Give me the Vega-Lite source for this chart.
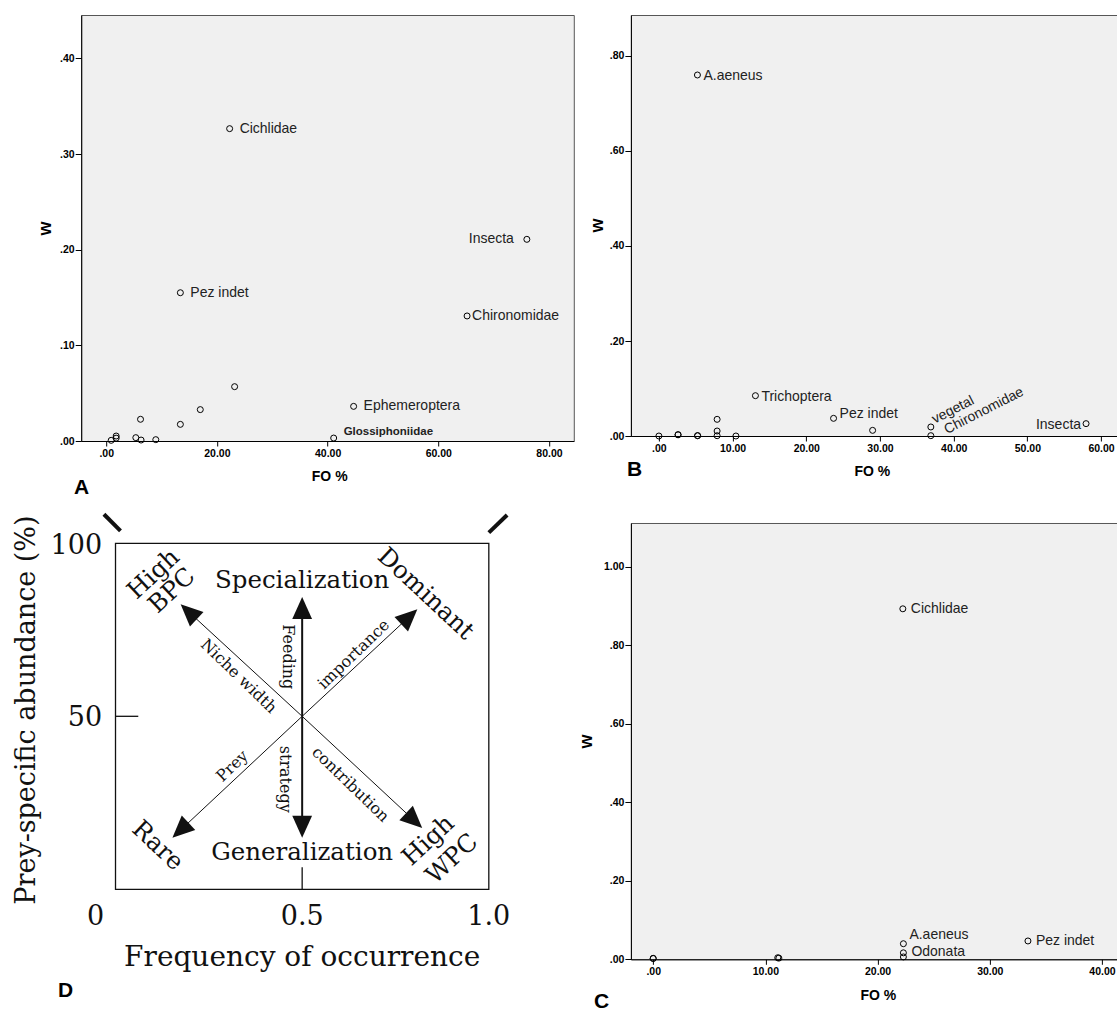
{
  "$schema": "https://vega.github.io/schema/vega-lite/v6.json",
  "background": "white",
  "padding": {"left": 13.2, "top": 14, "right": 0, "bottom": 0},
  "columns": 2,
  "align": "none",
  "bounds": "flush",
  "spacing": {"row": 82, "column": 56.7},
  "config": {
    "view": {"stroke": null},
    "axis": {"grid": false, "domainColor": "#000", "tickColor": "#000", "domainWidth": 1, "tickWidth": 1,
      "labelFont": "Liberation Sans", "labelFontWeight": "bold", "labelFontSize": 10.5, "labelColor": "#000",
      "titleFont": "Liberation Sans", "titleFontWeight": "bold", "titleColor": "#000", "labelFlush": false, "labelOverlap": false},
    "axisX": {"tickSize": 5, "labelPadding": 2, "titleFontSize": 14, "titleBaseline": "middle", "titleAlign": "center"},
    "axisY": {"tickSize": 6, "labelPadding": 1, "titleFontSize": 18, "titleBaseline": "middle", "titleAlign": "center", "titleAngle": -90},
    "text": {"font": "Liberation Sans"}
  },
  "datasets": {
    "A": [
      {"fo": 22.3, "w": 0.3265, "label": "Cichlidae"},
      {"fo": 76.0, "w": 0.2108, "label": "Insecta"},
      {"fo": 13.4, "w": 0.155, "label": "Pez indet"},
      {"fo": 65.2, "w": 0.1307, "label": "Chironomidae"},
      {"fo": 23.2, "w": 0.0568, "label": ""},
      {"fo": 44.7, "w": 0.0362, "label": "Ephemeroptera"},
      {"fo": 17.0, "w": 0.0328, "label": ""},
      {"fo": 13.4, "w": 0.0174, "label": ""},
      {"fo": 6.2, "w": 0.0227, "label": ""},
      {"fo": 5.35, "w": 0.0035, "label": ""},
      {"fo": 6.3, "w": 0.001, "label": ""},
      {"fo": 8.96, "w": 0.0014, "label": ""},
      {"fo": 1.8, "w": 0.0052, "label": ""},
      {"fo": 1.8, "w": 0.003, "label": ""},
      {"fo": 0.9, "w": 0.0007, "label": ""},
      {"fo": 41.1, "w": 0.0031, "label": "Glossiphoniidae"}
    ],
    "B": [
      {"fo": 5.23, "w": 0.76, "label": "A.aeneus"},
      {"fo": 13.1, "w": 0.0849, "label": "Trichoptera"},
      {"fo": 23.7, "w": 0.0372, "label": "Pez indet"},
      {"fo": 29.0, "w": 0.0119, "label": ""},
      {"fo": 36.9, "w": 0.019, "label": "vegetal"},
      {"fo": 36.9, "w": 0.0007, "label": "Chironomidae"},
      {"fo": 57.96, "w": 0.026, "label": "Insecta"},
      {"fo": 7.9, "w": 0.0351, "label": ""},
      {"fo": 7.9, "w": 0.0105, "label": ""},
      {"fo": 7.9, "w": 0.0006, "label": ""},
      {"fo": 0.0, "w": 0.0, "label": ""},
      {"fo": 2.6, "w": 0.0028, "label": ""},
      {"fo": 2.6, "w": 0.0025, "label": ""},
      {"fo": 5.25, "w": 0.0008, "label": ""},
      {"fo": 5.25, "w": 0.0006, "label": ""},
      {"fo": 10.45, "w": 0.0, "label": ""}
    ],
    "C": [
      {"fo": 22.25, "w": 0.893, "label": "Cichlidae"},
      {"fo": 22.3, "w": 0.0397, "label": "A.aeneus"},
      {"fo": 22.3, "w": 0.0165, "label": "Odonata"},
      {"fo": 22.3, "w": 0.006, "label": ""},
      {"fo": 33.4, "w": 0.0467, "label": "Pez indet"},
      {"fo": 0.0, "w": 0.0025, "label": ""},
      {"fo": 0.0, "w": 0.002, "label": ""},
      {"fo": 11.1, "w": 0.004, "label": ""},
      {"fo": 11.2, "w": 0.003, "label": ""}
    ],
    "Dbox": [{"x": 0, "y": 0, "x2": 1, "y2": 100}],
    "Dlines": [
      {"x": 0.5, "y": 50, "x2": 0.5, "y2": 81.3, "k": "v"},
      {"x": 0.5, "y": 50, "x2": 0.5, "y2": 18.1, "k": "v"},
      {"x": 0.5, "y": 50, "x2": 0.196, "y2": 80.2, "k": "d"},
      {"x": 0.5, "y": 50, "x2": 0.787, "y2": 78.8, "k": "d"},
      {"x": 0.5, "y": 50, "x2": 0.174, "y2": 17.1, "k": "d"},
      {"x": 0.5, "y": 50, "x2": 0.8, "y2": 19.9, "k": "d"},
      {"x": 0.5, "y": 0, "x2": 0.5, "y2": 6.4, "k": "t"},
      {"x": 0, "y": 50, "x2": 0.061, "y2": 50, "k": "t"},
      {"x": -0.031, "y": 108.4, "x2": 0.0134, "y2": 103.6, "k": "s"},
      {"x": 1.0, "y": 103.1, "x2": 1.049, "y2": 108.2, "k": "s"}
    ],
    "Dheads": [
      {"x": 0.5, "y": 81.3, "a": 0},
      {"x": 0.5, "y": 18.1, "a": 180},
      {"x": 0.196, "y": 80.2, "a": 313},
      {"x": 0.787, "y": 78.8, "a": 47},
      {"x": 0.174, "y": 17.1, "a": 227},
      {"x": 0.8, "y": 19.9, "a": 133}
    ],
    "Dtext": [
      {"t": "Specialization", "x": 0.5, "y": 89.2, "k": "h0"},
      {"t": "Generalization", "x": 0.5, "y": 10.6, "k": "h0"},
      {"t": "Dominant", "x": 0.83, "y": 85.3, "k": "h45"},
      {"t": "Rare", "x": 0.112, "y": 12.5, "k": "h45"},
      {"t": "High", "x": 0.103, "y": 91.0, "k": "hm45"},
      {"t": "BPC", "x": 0.152, "y": 86.2, "k": "hm45"},
      {"t": "High", "x": 0.839, "y": 14.0, "k": "hm45"},
      {"t": "WPC", "x": 0.902, "y": 8.7, "k": "hm45"},
      {"t": "Feeding", "x": 0.462, "y": 67.2, "k": "s90"},
      {"t": "strategy", "x": 0.455, "y": 31.8, "k": "s90"},
      {"t": "Niche width", "x": 0.33, "y": 61.6, "k": "s45"},
      {"t": "contribution", "x": 0.6295, "y": 30.3, "k": "s45"},
      {"t": "importance", "x": 0.638, "y": 67.9, "k": "sm45"},
      {"t": "Prey", "x": 0.3126, "y": 35.6, "k": "sm45"},
      {"t": "0", "x": -0.0536, "y": -7.9, "k": "num"},
      {"t": "0.5", "x": 0.5, "y": -7.9, "k": "num"},
      {"t": "1.0", "x": 1.0, "y": -7.9, "k": "num"},
      {"t": "100", "x": -0.036, "y": 99.2, "k": "numr"},
      {"t": "50", "x": -0.036, "y": 49.6, "k": "numr"},
      {"t": "Frequency of occurrence", "x": 0.5, "y": -19.8, "k": "xt"},
      {"t": "Prey-specific abundance (%)", "x": -0.2365, "y": 51.8, "k": "yt"},
      {"t": "A", "x": -0.0911, "y": 115.98, "k": "letter"},
      {"t": "B", "x": 1.3903, "y": 121.33, "k": "letter"},
      {"t": "C", "x": 1.3019, "y": -32.57, "k": "letter"},
      {"t": "D", "x": -0.1339, "y": -29.39, "k": "letter"}
    ]
  },
  "concat": [
    {
      "width": 492.6, "height": 426,
      "view": {"fill": "#f0f0f0", "stroke": "#555"},
      "data": {"name": "A"},
      "encoding": {
        "x": {"field": "fo", "type": "quantitative", "scale": {"domain": [-4.517, 84.48], "nice": false, "zero": false},
          "axis": {"values": [0, 20, 40, 60, 80], "title": "FO %", "titleX": 248, "titleY": 35,
            "labelExpr": "datum.value < 1 ? slice(format(datum.value, '.2f'), 1) : format(datum.value, '.2f')"}},
        "y": {"field": "w", "type": "quantitative", "scale": {"domain": [0, 0.4453], "nice": false, "zero": false},
          "axis": {"values": [0, 0.1, 0.2, 0.3, 0.4], "title": "w", "titleX": -36, "titleY": 213,
            "labelExpr": "datum.value < 1 ? slice(format(datum.value, '.2f'), 1) : format(datum.value, '.2f')"}}
      },
      "layer": [
        {"mark": {"type": "point", "shape": "circle", "filled": false, "stroke": "#000", "strokeWidth": 1, "size": 36, "opacity": 1}},
        {"transform": [{"filter": "indexof(['Cichlidae','Pez indet','Ephemeroptera'], datum.label) >= 0"}],
          "mark": {"type": "text", "align": "left", "baseline": "middle", "dx": 10, "fontSize": 14, "color": "#222"},
          "encoding": {"text": {"field": "label"}}},
        {"transform": [{"filter": "datum.label === 'Chironomidae'"}],
          "mark": {"type": "text", "align": "left", "baseline": "middle", "dx": 5, "fontSize": 14, "color": "#222"},
          "encoding": {"text": {"field": "label"}}},
        {"transform": [{"filter": "datum.label === 'Insecta'"}],
          "mark": {"type": "text", "align": "right", "baseline": "middle", "dx": -13, "fontSize": 14, "color": "#222"},
          "encoding": {"text": {"field": "label"}}},
        {"transform": [{"filter": "datum.label === 'Glossiphoniidae'"}],
          "mark": {"type": "text", "align": "left", "baseline": "middle", "dx": 10, "dy": -6, "fontSize": 11.5, "fontWeight": "bold", "color": "#222"},
          "encoding": {"text": {"field": "label"}}}
      ]
    },
    {
      "width": 487, "height": 421,
      "view": {"fill": "#f0f0f0", "stroke": "#555"},
      "data": {"name": "B"},
      "encoding": {
        "x": {"field": "fo", "type": "quantitative", "scale": {"domain": [-3.799, 62.28], "nice": false, "zero": false},
          "axis": {"values": [0, 10, 20, 30, 40, 50, 60], "title": "FO %", "titleX": 241, "titleY": 35,
            "labelExpr": "datum.value < 1 ? slice(format(datum.value, '.2f'), 1) : format(datum.value, '.2f')"}},
        "y": {"field": "w", "type": "quantitative", "scale": {"domain": [0, 0.8863], "nice": false, "zero": false},
          "axis": {"values": [0, 0.2, 0.4, 0.6, 0.8], "title": "w", "titleX": -33, "titleY": 210,
            "labelExpr": "datum.value < 1 ? slice(format(datum.value, '.2f'), 1) : format(datum.value, '.2f')"}}
      },
      "layer": [
        {"mark": {"type": "point", "shape": "circle", "filled": false, "stroke": "#000", "strokeWidth": 1, "size": 36, "opacity": 1}},
        {"transform": [{"filter": "indexof(['A.aeneus','Trichoptera'], datum.label) >= 0"}],
          "mark": {"type": "text", "align": "left", "baseline": "middle", "dx": 6, "dy": 1, "fontSize": 14, "color": "#222"},
          "encoding": {"text": {"field": "label"}}},
        {"transform": [{"filter": "datum.label === 'Pez indet'"}],
          "mark": {"type": "text", "align": "left", "baseline": "middle", "dx": 6, "dy": -4, "fontSize": 14, "color": "#222"},
          "encoding": {"text": {"field": "label"}}},
        {"transform": [{"filter": "datum.label === 'Insecta'"}],
          "mark": {"type": "text", "align": "right", "baseline": "middle", "dx": -5, "dy": 1, "fontSize": 14, "color": "#222"},
          "encoding": {"text": {"field": "label"}}},
        {"transform": [{"filter": "datum.label === 'vegetal'"}],
          "mark": {"type": "text", "align": "left", "baseline": "alphabetic", "angle": 333, "dx": 5, "dy": -1, "fontSize": 14, "color": "#222"},
          "encoding": {"text": {"field": "label"}}},
        {"transform": [{"filter": "datum.label === 'Chironomidae'"}],
          "mark": {"type": "text", "align": "left", "baseline": "alphabetic", "angle": 333, "dx": 15, "dy": 6, "fontSize": 14, "color": "#222"},
          "encoding": {"text": {"field": "label"}}}
      ]
    },
    {
      "width": 487.1, "height": 478,
      "encoding": {
        "x": {"field": "x", "type": "quantitative", "scale": {"domain": [-0.0919, 1.2129], "nice": false, "zero": false}, "axis": null},
        "y": {"field": "y", "type": "quantitative", "scale": {"domain": [-32.28, 105.87], "nice": false, "zero": false}, "axis": null}
      },
      "layer": [
        {"data": {"name": "Dbox"},
          "mark": {"type": "rect", "fillOpacity": 0, "stroke": "#111", "strokeWidth": 1.3},
          "encoding": {"x2": {"field": "x2"}, "y2": {"field": "y2"}}},
        {"data": {"name": "Dlines"},
          "mark": {"type": "rule", "color": "#111"},
          "encoding": {"x2": {"field": "x2"}, "y2": {"field": "y2"},
            "strokeWidth": {"condition": [{"test": "datum.k === 'v'", "value": 2}, {"test": "datum.k === 's'", "value": 4}, {"test": "datum.k === 't'", "value": 1.3}], "value": 1}}},
        {"data": {"name": "Dheads"},
          "mark": {"type": "point", "shape": "M0,-1L-0.9,1L0.9,1Z", "filled": true, "color": "#111", "opacity": 1, "size": 484},
          "encoding": {"angle": {"field": "a", "type": "quantitative", "scale": null}}},
        {"data": {"name": "Dtext"}, "transform": [{"filter": "datum.k === 'h0'"}],
          "mark": {"type": "text", "font": "DejaVu Serif", "fontSize": 24.5, "align": "center", "baseline": "middle", "color": "#111"},
          "encoding": {"text": {"field": "t"}}},
        {"data": {"name": "Dtext"}, "transform": [{"filter": "datum.k === 'h45'"}],
          "mark": {"type": "text", "font": "DejaVu Serif", "fontSize": 24.5, "align": "center", "baseline": "middle", "angle": 43, "color": "#111"},
          "encoding": {"text": {"field": "t"}}},
        {"data": {"name": "Dtext"}, "transform": [{"filter": "datum.k === 'hm45'"}],
          "mark": {"type": "text", "font": "DejaVu Serif", "fontSize": 24.5, "align": "center", "baseline": "middle", "angle": 317, "color": "#111"},
          "encoding": {"text": {"field": "t"}}},
        {"data": {"name": "Dtext"}, "transform": [{"filter": "datum.k === 's90'"}],
          "mark": {"type": "text", "font": "DejaVu Serif", "fontSize": 16, "align": "center", "baseline": "middle", "angle": 90, "color": "#111"},
          "encoding": {"text": {"field": "t"}}},
        {"data": {"name": "Dtext"}, "transform": [{"filter": "datum.k === 's45'"}],
          "mark": {"type": "text", "font": "DejaVu Serif", "fontSize": 16, "align": "center", "baseline": "middle", "angle": 44, "color": "#111"},
          "encoding": {"text": {"field": "t"}}},
        {"data": {"name": "Dtext"}, "transform": [{"filter": "datum.k === 'sm45'"}],
          "mark": {"type": "text", "font": "DejaVu Serif", "fontSize": 16, "align": "center", "baseline": "middle", "angle": 316, "color": "#111"},
          "encoding": {"text": {"field": "t"}}},
        {"data": {"name": "Dtext"}, "transform": [{"filter": "datum.k === 'num'"}],
          "mark": {"type": "text", "font": "DejaVu Serif", "fontSize": 27, "align": "center", "baseline": "middle", "color": "#111"},
          "encoding": {"text": {"field": "t"}}},
        {"data": {"name": "Dtext"}, "transform": [{"filter": "datum.k === 'numr'"}],
          "mark": {"type": "text", "font": "DejaVu Serif", "fontSize": 27, "align": "right", "baseline": "middle", "color": "#111"},
          "encoding": {"text": {"field": "t"}}},
        {"data": {"name": "Dtext"}, "transform": [{"filter": "datum.k === 'xt'"}],
          "mark": {"type": "text", "font": "DejaVu Serif", "fontSize": 28, "align": "center", "baseline": "middle", "color": "#111"},
          "encoding": {"text": {"field": "t"}}},
        {"data": {"name": "Dtext"}, "transform": [{"filter": "datum.k === 'yt'"}],
          "mark": {"type": "text", "font": "DejaVu Serif", "fontSize": 27, "align": "center", "baseline": "middle", "angle": 270, "color": "#111"},
          "encoding": {"text": {"field": "t"}}},
        {"data": {"name": "Dtext"}, "transform": [{"filter": "datum.k === 'letter'"}],
          "mark": {"type": "text", "font": "Liberation Sans", "fontSize": 21, "fontWeight": "bold", "align": "center", "baseline": "middle", "color": "#000"},
          "encoding": {"text": {"field": "t"}}}
      ]
    },
    {
      "width": 487, "height": 436.3,
      "view": {"fill": "#f0f0f0", "stroke": "#555"},
      "data": {"name": "C"},
      "encoding": {
        "x": {"field": "fo", "type": "quantitative", "scale": {"domain": [-1.988, 41.417], "nice": false, "zero": false},
          "axis": {"values": [0, 10, 20, 30, 40], "title": "FO %", "titleX": 247, "titleY": 36,
            "labelExpr": "datum.value < 1 ? slice(format(datum.value, '.2f'), 1) : format(datum.value, '.2f')"}},
        "y": {"field": "w", "type": "quantitative", "scale": {"domain": [0, 1.1116], "nice": false, "zero": false},
          "axis": {"values": [0, 0.2, 0.4, 0.6, 0.8, 1.0], "title": "w", "titleX": -44, "titleY": 218,
            "labelExpr": "datum.value < 1 ? slice(format(datum.value, '.2f'), 1) : format(datum.value, '.2f')"}}
      },
      "layer": [
        {"mark": {"type": "point", "shape": "circle", "filled": false, "stroke": "#000", "strokeWidth": 1, "size": 36, "opacity": 1}},
        {"transform": [{"filter": "indexof(['Cichlidae','Pez indet'], datum.label) >= 0"}],
          "mark": {"type": "text", "align": "left", "baseline": "middle", "dx": 8, "fontSize": 14, "color": "#222"},
          "encoding": {"text": {"field": "label"}}},
        {"transform": [{"filter": "datum.label === 'A.aeneus'"}],
          "mark": {"type": "text", "align": "left", "baseline": "middle", "dx": 6, "dy": -9, "fontSize": 14, "color": "#222"},
          "encoding": {"text": {"field": "label"}}},
        {"transform": [{"filter": "datum.label === 'Odonata'"}],
          "mark": {"type": "text", "align": "left", "baseline": "middle", "dx": 8, "dy": -1, "fontSize": 14, "color": "#222"},
          "encoding": {"text": {"field": "label"}}}
      ]
    }
  ]
}
